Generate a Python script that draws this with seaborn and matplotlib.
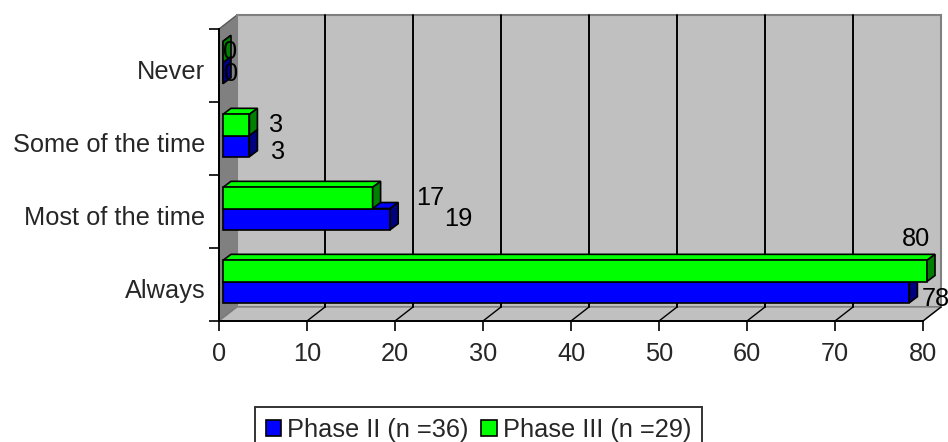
import numpy as np
import pandas as pd
import seaborn as sns
import matplotlib
matplotlib.use("Agg")
import matplotlib.pyplot as plt
from matplotlib.patches import Polygon, Rectangle
from matplotlib.transforms import ScaledTranslation

# Survey responses (%) by phase
categories = ["Never", "Some of the time", "Most of the time", "Always"]
phase2_label = "Phase II (n =36)"
phase3_label = "Phase III (n =29)"
phase2_values = [0, 3, 19, 78]
phase3_values = [0, 3, 17, 80]
x_ticks = [0, 10, 20, 30, 40, 50, 60, 70, 80]

sns.set_theme(style="white")
plt.rcParams["font.family"] = ["Liberation Sans", "DejaVu Sans"]
FS = 18.3

W, H, DPI = 948, 442, 100
fig = plt.figure(figsize=(W / DPI, H / DPI), dpi=DPI)
fig.patch.set_facecolor("white")

# front plane of the 3-D box, in pixels
L, R, T, B = 219, 923, 29, 321
ax = fig.add_axes([L / W, 1 - B / H, (R - L) / W, (B - T) / H])
ax.set_facecolor("none")

df = pd.DataFrame({
    "response": categories * 2,
    "value": phase3_values + phase2_values,
    "phase": [phase3_label] * 4 + [phase2_label] * 4,
})
palette = {phase2_label: "#0000FF", phase3_label: "#00FF00"}
dark = {"#0000FF": "#000080", "#00FF00": "#008000"}

sns.barplot(data=df, x="value", y="response", hue="phase", orient="h",
            order=categories, hue_order=[phase3_label, phase2_label],
            palette=palette, saturation=1, width=0.58, edgecolor="black",
            linewidth=1.2, legend=False, ax=ax, zorder=5)
bars = [p for p in ax.patches if isinstance(p, Rectangle)]

ax.set_xlim(0, 80)
ax.set_ylim(len(categories) - 0.5, -0.5)

# pixel -> data conversion
ux = 80 / (R - L)
uy = len(categories) / (B - T)


def px(dx, dy):
    """offset of dx px right and dy px up, in data units"""
    return dx * ux, -dy * uy


# walls of the box
WD = (18, 14)
wx, wy = px(*WD)
y_lo, y_hi = len(categories) - 0.5, -0.5
side = Polygon([(0, y_lo), (0, y_hi), (wx, y_hi + wy), (wx, y_lo + wy)],
               closed=True, facecolor="#808080", edgecolor="#5a5a5a",
               linewidth=1.0, zorder=0, clip_on=False)
back = Polygon([(wx, y_lo + wy), (wx, y_hi + wy), (80 + wx, y_hi + wy), (80 + wx, y_lo + wy)],
               closed=True, facecolor="#C0C0C0", edgecolor="#808080",
               linewidth=1.5, zorder=0, clip_on=False)
floor = Polygon([(0, y_lo), (80, y_lo), (80 + wx, y_lo + wy), (wx, y_lo + wy)],
                closed=True, facecolor="#C0C0C0", edgecolor="#808080",
                linewidth=1.0, zorder=0.5, clip_on=False)
for p in (side, back, floor):
    ax.add_patch(p)

# gridlines on the back wall and the floor
for t in x_ticks[1:-1]:
    ax.plot([t + wx, t + wx], [y_lo + wy, y_hi + wy], color="black", lw=1.4,
            zorder=1, clip_on=False)
for t in x_ticks[1:]:
    ax.plot([t, t + wx], [y_lo, y_lo + wy], color="black", lw=1.0,
            zorder=1, clip_on=False)

# turn the flat bars into boxes
fx, fy = px(4, 3)
dx, dy = px(8, 6)
# draw lower bars first so the upper ones cover their top faces
bars.sort(key=lambda p: -p.get_y())
for i, p in enumerate(bars):
    x0 = p.get_x() + fx
    w = p.get_width()
    y0 = p.get_y() + fy
    h = p.get_height()
    col = matplotlib.colors.to_hex(p.get_facecolor()).upper()
    z = 5 + i * 0.1
    p.set_x(x0)
    p.set_y(y0)
    p.set_zorder(z + 0.05)
    top = Polygon([(x0, y0), (x0 + w, y0), (x0 + w + dx, y0 + dy), (x0 + dx, y0 + dy)],
                  closed=True, facecolor=col, edgecolor="black", lw=1.2,
                  zorder=z, clip_on=False)
    right = Polygon([(x0 + w, y0), (x0 + w + dx, y0 + dy), (x0 + w + dx, y0 + h + dy), (x0 + w, y0 + h)],
                    closed=True, facecolor=dark.get(col, col), edgecolor="black", lw=1.2,
                    zorder=z + 0.06, clip_on=False)
    ax.add_patch(top)
    ax.add_patch(right)
    p.set_clip_on(False)

# value labels next to each bar
label_offsets_p3 = [(7, 0), (27, 0), (58, 0), (-11, 32)]
label_offsets_p2 = [(8, -1), (29, -6), (68, 0), (26, -7)]
bw = 0.58 / 2
for ci, cat in enumerate(categories):
    for vals, offs, yc in ((phase3_values, label_offsets_p3, ci - bw / 2),
                           (phase2_values, label_offsets_p2, ci + bw / 2)):
        v = vals[ci]
        ox, oy = offs[ci]
        tr = ax.transData + ScaledTranslation((4 + ox) / DPI, (3 + oy) / DPI, fig.dpi_scale_trans)
        ax.text(v, yc, f"{v}", transform=tr, ha="center", va="center",
                fontsize=FS, color="black", zorder=20, clip_on=False)

# axes, ticks and labels
for s in ("top", "right"):
    ax.spines[s].set_visible(False)
for s in ("left", "bottom"):
    ax.spines[s].set_color("black")
    ax.spines[s].set_linewidth(1.4)
    ax.spines[s].set_zorder(10)

ax.set_xticks(x_ticks)
ax.set_xticklabels([str(t) for t in x_ticks], fontsize=FS)
ax.tick_params(axis="x", direction="out", length=7, width=1.2, color="black", pad=8,
               bottom=True)
ax.set_yticks(range(len(categories)))
ax.set_yticklabels(categories, fontsize=FS)
ax.set_yticks(np.arange(-0.5, len(categories)), minor=True)
ax.tick_params(axis="y", which="major", length=0, pad=10, left=True)
ax.tick_params(axis="y", which="minor", direction="out", length=7, width=1.2,
               color="black", left=True)
for lab in ax.get_yticklabels():
    lab.set_transform(lab.get_transform() + ScaledTranslation(0, -4 / DPI, fig.dpi_scale_trans))
ax.set_xlabel("")
ax.set_ylabel("")
ax.grid(False)

# legend below the chart (runs off the bottom edge)
handles = [Rectangle((0, 0), 1, 1, facecolor="#0000FF", edgecolor="black", lw=1.2),
           Rectangle((0, 0), 1, 1, facecolor="#00FF00", edgecolor="black", lw=1.2)]
leg = fig.legend(handles, [phase2_label, phase3_label], loc="upper center",
                 bbox_to_anchor=(478.5 / W, 1 - 407 / H), ncol=2, frameon=True,
                 fontsize=FS, handlelength=0.6, handleheight=0.6, handletextpad=0.25,
                 columnspacing=0.5, borderpad=0.42, borderaxespad=0, fancybox=False)
leg.get_frame().set_edgecolor("black")
leg.get_frame().set_linewidth(1.4)

fig.savefig("out.png", dpi=DPI, facecolor="white")
